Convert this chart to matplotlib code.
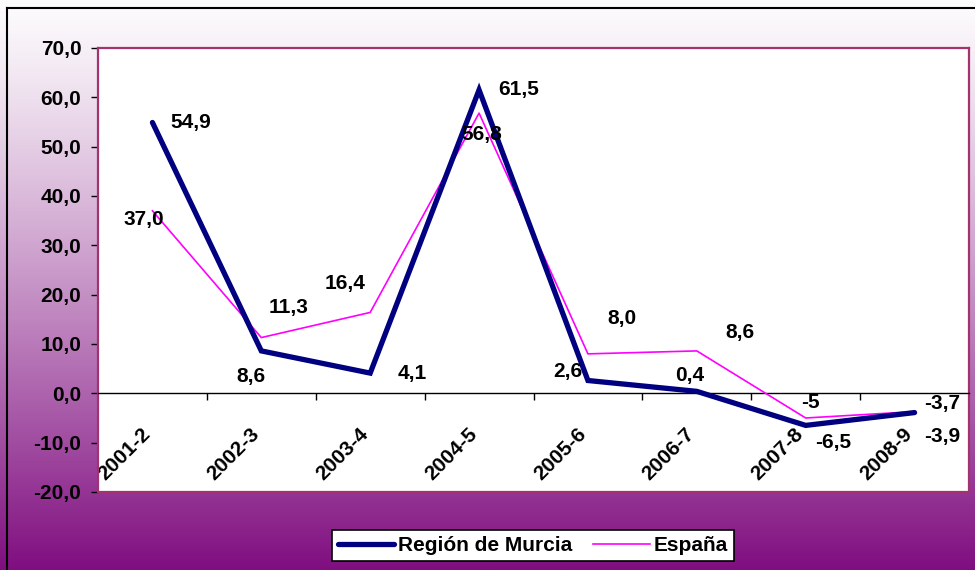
import numpy as np
import matplotlib
matplotlib.use("Agg")
import matplotlib.pyplot as plt
from matplotlib.transforms import ScaledTranslation
from matplotlib.lines import Line2D

# ---- data ----
categories = ["2001-2", "2002-3", "2003-4", "2004-5", "2005-6", "2006-7", "2007-8", "2008-9"]
murcia = [54.9, 8.6, 4.1, 61.5, 2.6, 0.4, -6.5, -3.9]
espana = [37.0, 11.3, 16.4, 56.8, 8.0, 8.6, -5.0, -3.7]
murcia_labels = ["54,9", "8,6", "4,1", "61,5", "2,6", "0,4", "-6,5", "-3,9"]
espana_labels = ["37,0", "11,3", "16,4", "56,8", "8,0", "8,6", "-5", "-3,7"]
yticks = [-20, -10, 0, 10, 20, 30, 40, 50, 60, 70]
ytick_labels = ["-20,0", "-10,0", "0,0", "10,0", "20,0", "30,0", "40,0", "50,0", "60,0", "70,0"]
series_names = ["Región de Murcia", "España"]

# label offsets (pixels, screen: +x right, +y up)
murcia_off = [(38, 0), (-10, -26), (42, 0), (40, 0), (-20, 9), (-7, 16), (27, -17), (28, -24)]
espana_off = [(-9, -9), (27, 30), (-25, 29), (3, -21), (34, 35), (43, 18), (5, 16), (28, 8)]

plt.rcParams['font.family'] = ['Liberation Sans', 'DejaVu Sans']
plt.rcParams['font.weight'] = 'bold'
FS = 15
DPI = 100
W, H = 975, 570
fig = plt.figure(figsize=(W / DPI, H / DPI), dpi=DPI)

# background gradient
bg = fig.add_axes([0, 0, 1, 1], zorder=-10)
t = np.linspace(0, 1, 400) ** 1.2
top = np.array([253, 252, 253]) / 255
bot = np.array([128, 14, 128]) / 255
grad = top[None, :] * (1 - t[:, None]) + bot[None, :] * t[:, None]
bg.imshow(grad[:, None, :], aspect='auto', extent=[0, 1, 0, 1], origin='upper')
bg.set_xlim(0, 1); bg.set_ylim(0, 1)
bg.axis('off')
# figure border (top, left)
bg.plot([7 / W, 1], [1 - 8 / H, 1 - 8 / H], color='black', lw=1.5, transform=bg.transAxes, clip_on=False)
bg.plot([7 / W, 7 / W], [0, 1 - 8 / H], color='black', lw=1.5, transform=bg.transAxes, clip_on=False)

# plot area
left, right, topp, bottom = 98, 969, 48, 492
ax = fig.add_axes([left / W, 1 - bottom / H, (right - left) / W, (bottom - topp) / H])
ax.set_facecolor('white')
x = np.arange(len(categories))
ax.set_xlim(-0.5, len(categories) - 0.5)
ax.set_ylim(-20, 70)

border = '#A3336E'
for s in ['left', 'top', 'right']:
    ax.spines[s].set_color(border)
    ax.spines[s].set_linewidth(1.6)
ax.spines['bottom'].set_position(('data', 0))
ax.spines['bottom'].set_color('black')
ax.spines['bottom'].set_linewidth(1.0)
ax.axhline(-20, color=border, lw=1.6, clip_on=False, zorder=1)

ax.plot(x, espana, color='#FF00FF', lw=1.2, zorder=3)
ax.plot(x, murcia, color='#000080', lw=3.8, solid_capstyle='round', solid_joinstyle='miter', zorder=4)

for xi, v, lab, (dx, dy) in zip(x, murcia, murcia_labels, murcia_off):
    ax.annotate(lab, (xi, v), xytext=(dx * 0.72, dy * 0.72), textcoords='offset points',
                ha='center', va='center', fontsize=FS, fontweight='bold', zorder=6)
for xi, v, lab, (dx, dy) in zip(x, espana, espana_labels, espana_off):
    ax.annotate(lab, (xi, v), xytext=(dx * 0.72, dy * 0.72), textcoords='offset points',
                ha='center', va='center', fontsize=FS, fontweight='bold', zorder=6)

ax.set_yticks(yticks)
ax.set_yticklabels(ytick_labels, fontsize=FS, fontweight='bold')
ax.tick_params(axis='y', direction='out', length=5, width=1, color='black', pad=7)

ax.set_xticks(x)
ax.set_xticklabels(categories, fontsize=FS, fontweight='bold', rotation=45,
                   ha='right', va='center', rotation_mode='anchor')
ax.tick_params(axis='x', which='major', length=0, pad=27)
ax.set_xticks(x[:-1] + 0.5, minor=True)
ax.tick_params(axis='x', which='minor', direction='out', length=5, width=1, color='black')
off = ScaledTranslation(-5 / DPI, 0, fig.dpi_scale_trans)
for lbl in ax.get_xticklabels():
    lbl.set_transform(lbl.get_transform() + off)

handles = [Line2D([], [], color='#000080', lw=3.8, solid_capstyle='round'),
           Line2D([], [], color='#FF00FF', lw=1.2)]
leg = fig.legend(handles, series_names, loc='center', ncol=2,
                 bbox_to_anchor=(533 / W, 1 - 545.5 / H), bbox_transform=fig.transFigure,
                 fontsize=FS, frameon=True, fancybox=False, framealpha=1,
                 edgecolor='black', handlelength=2.7, handletextpad=0.2,
                 columnspacing=1.0, borderpad=0.3, borderaxespad=0)
leg.get_frame().set_linewidth(1.2)
for txt in leg.get_texts():
    txt.set_fontweight('bold')

fig.savefig('out.png', dpi=DPI)
